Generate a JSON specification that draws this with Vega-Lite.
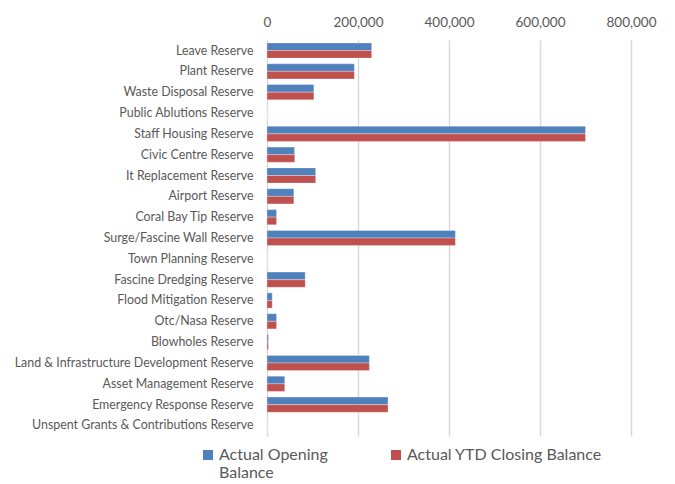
{
  "$schema": "https://vega.github.io/schema/vega-lite/v6.json",
  "width": 364,
  "height": 396,
  "autosize": {"type": "none"},
  "padding": {"left": 267, "top": 40, "right": 44, "bottom": 48},
  "background": "white",
  "config": {
    "font": "Lato",
    "view": {"stroke": null},
    "axis": {"labelColor": "#595959", "labelFont": "Lato"}
  },
  "data": {
    "values": [
      {"reserve": "Leave Reserve", "series": "Actual Opening Balance", "value": 230000},
      {"reserve": "Leave Reserve", "series": "Actual YTD Closing Balance", "value": 230000},
      {"reserve": "Plant Reserve", "series": "Actual Opening Balance", "value": 192000},
      {"reserve": "Plant Reserve", "series": "Actual YTD Closing Balance", "value": 192000},
      {"reserve": "Waste Disposal Reserve", "series": "Actual Opening Balance", "value": 103000},
      {"reserve": "Waste Disposal Reserve", "series": "Actual YTD Closing Balance", "value": 103000},
      {"reserve": "Public Ablutions Reserve", "series": "Actual Opening Balance", "value": 0},
      {"reserve": "Public Ablutions Reserve", "series": "Actual YTD Closing Balance", "value": 0},
      {"reserve": "Staff Housing Reserve", "series": "Actual Opening Balance", "value": 700000},
      {"reserve": "Staff Housing Reserve", "series": "Actual YTD Closing Balance", "value": 700000},
      {"reserve": "Civic Centre Reserve", "series": "Actual Opening Balance", "value": 60500},
      {"reserve": "Civic Centre Reserve", "series": "Actual YTD Closing Balance", "value": 61000},
      {"reserve": "It Replacement Reserve", "series": "Actual Opening Balance", "value": 107000},
      {"reserve": "It Replacement Reserve", "series": "Actual YTD Closing Balance", "value": 107000},
      {"reserve": "Airport Reserve", "series": "Actual Opening Balance", "value": 59000},
      {"reserve": "Airport Reserve", "series": "Actual YTD Closing Balance", "value": 59000},
      {"reserve": "Coral Bay Tip Reserve", "series": "Actual Opening Balance", "value": 21000},
      {"reserve": "Coral Bay Tip Reserve", "series": "Actual YTD Closing Balance", "value": 21000},
      {"reserve": "Surge/Fascine Wall Reserve", "series": "Actual Opening Balance", "value": 414000},
      {"reserve": "Surge/Fascine Wall Reserve", "series": "Actual YTD Closing Balance", "value": 414000},
      {"reserve": "Town Planning Reserve", "series": "Actual Opening Balance", "value": 0},
      {"reserve": "Town Planning Reserve", "series": "Actual YTD Closing Balance", "value": 0},
      {"reserve": "Fascine Dredging Reserve", "series": "Actual Opening Balance", "value": 84000},
      {"reserve": "Fascine Dredging Reserve", "series": "Actual YTD Closing Balance", "value": 84000},
      {"reserve": "Flood Mitigation Reserve", "series": "Actual Opening Balance", "value": 11500},
      {"reserve": "Flood Mitigation Reserve", "series": "Actual YTD Closing Balance", "value": 11500},
      {"reserve": "Otc/Nasa Reserve", "series": "Actual Opening Balance", "value": 21000},
      {"reserve": "Otc/Nasa Reserve", "series": "Actual YTD Closing Balance", "value": 21000},
      {"reserve": "Blowholes Reserve", "series": "Actual Opening Balance", "value": 3000},
      {"reserve": "Blowholes Reserve", "series": "Actual YTD Closing Balance", "value": 3000},
      {"reserve": "Land & Infrastructure Development Reserve", "series": "Actual Opening Balance", "value": 225000},
      {"reserve": "Land & Infrastructure Development Reserve", "series": "Actual YTD Closing Balance", "value": 225000},
      {"reserve": "Asset Management Reserve", "series": "Actual Opening Balance", "value": 39000},
      {"reserve": "Asset Management Reserve", "series": "Actual YTD Closing Balance", "value": 39000},
      {"reserve": "Emergency Response Reserve", "series": "Actual Opening Balance", "value": 266000},
      {"reserve": "Emergency Response Reserve", "series": "Actual YTD Closing Balance", "value": 266000},
      {"reserve": "Unspent Grants & Contributions Reserve", "series": "Actual Opening Balance", "value": 0},
      {"reserve": "Unspent Grants & Contributions Reserve", "series": "Actual YTD Closing Balance", "value": 0}
    ]
  },
  "mark": {"type": "bar", "stroke": "#ffffff", "strokeOpacity": 0.5, "strokeWidth": 0.6},
  "encoding": {
    "y": {
      "field": "reserve",
      "type": "nominal",
      "sort": null,
      "scale": {"paddingInner": 0.27, "paddingOuter": 0.14},
      "axis": {
        "title": null,
        "ticks": false,
        "domain": false,
        "labelFontSize": 12.4,
        "labelPadding": 14,
        "labelLimit": 300
      }
    },
    "yOffset": {"field": "series", "type": "nominal", "sort": null},
    "x": {
      "field": "value",
      "type": "quantitative",
      "scale": {"domain": [0, 800000], "nice": false},
      "axis": {
        "orient": "top",
        "title": null,
        "values": [0, 200000, 400000, 600000, 800000],
        "format": ",d",
        "ticks": false,
        "domain": false,
        "labelFlush": false,
        "labelFontSize": 13.5,
        "labelPadding": 11,
        "grid": true,
        "gridColor": "#D9D9D9",
        "gridWidth": 1.5
      }
    },
    "color": {
      "field": "series",
      "type": "nominal",
      "sort": null,
      "scale": {"range": ["#4F81BD", "#C0504D"]},
      "legend": {
        "title": null,
        "orient": "none",
        "direction": "horizontal",
        "legendX": -67,
        "legendY": 407,
        "symbolType": "square",
        "symbolSize": 100,
        "symbolStrokeWidth": 0,
        "labelFontSize": 16,
        "labelColor": "#595959",
        "labelOffset": 3,
        "columnPadding": 60,
        "labelLimit": 300,
        "labelExpr": "datum.label == 'Actual Opening Balance' ? ['Actual Opening', ' Balance'] : [datum.label, ' ']"
      }
    }
  }
}
